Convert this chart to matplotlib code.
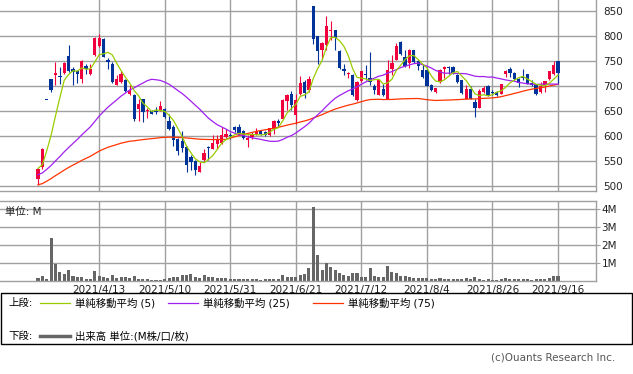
import pandas as pd
import matplotlib
matplotlib.use("Agg")
import matplotlib.pyplot as plt
from matplotlib.lines import Line2D
from matplotlib.patches import Rectangle

plt.rcParams['font.family'] = ['DejaVu Sans', 'Noto Sans CJK JP']

# trading days (Tokyo), 2021/3/24 - 2021/9/16
holidays = ['2021-04-29', '2021-05-03', '2021-05-04', '2021-05-05',
            '2021-07-22', '2021-07-23', '2021-08-09']
dates = pd.bdate_range('2021-03-24', '2021-09-16', freq='C', holidays=holidays)

opens = [515, 539, 673, 714, 723, 720, 727, 760, 735, 731,
         715, 740, 724, 762, 781, 794, 752, 745, 703, 709,
         712, 685, 683, 655, 674, 650, 650, 651, 653, 655,
         631, 618, 595, 590, 579, 559, 551, 529, 552, 579,
         575, 585, 587, 599, 602, 619, 618, 610, 593, 598,
         605, 610, 609, 602, 615, 631, 635, 671, 684, 642,
         685, 709, 692, 860, 800, 773, 782, 810, 812, 771,
         735, 724, 722, 673, 710, 725, 717, 701, 683, 695,
         674, 735, 753, 789, 759, 747, 772, 750, 732, 733,
         702, 689, 709, 735, 739, 739, 722, 712, 675, 695,
         669, 657, 689, 700, 689, 689, 685, 725, 734, 727,
         714, 719, 724, 707, 702, 689, 702, 714, 724, 750]
highs = [536, 577, 673, 714, 749, 738, 749, 782, 739, 732,
         752, 745, 745, 799, 804, 797, 757, 749, 722, 730,
         714, 703, 685, 675, 675, 657, 653, 658, 670, 657,
         645, 623, 596, 610, 581, 562, 553, 549, 574, 580,
         603, 603, 619, 615, 607, 620, 625, 613, 603, 609,
         617, 612, 611, 617, 632, 635, 675, 684, 691, 684,
         720, 713, 720, 860, 801, 788, 841, 830, 813, 772,
         745, 729, 724, 710, 731, 742, 769, 705, 715, 705,
         752, 762, 787, 791, 773, 775, 772, 753, 745, 735,
         705, 697, 734, 740, 740, 740, 724, 713, 702, 700,
         675, 695, 700, 702, 692, 691, 705, 733, 739, 729,
         717, 734, 725, 712, 704, 709, 710, 731, 750, 750]
lows = [502, 535, 673, 689, 702, 705, 725, 729, 702, 707,
        707, 724, 722, 760, 778, 758, 735, 707, 703, 707,
        689, 683, 631, 631, 629, 637, 644, 645, 651, 637,
        612, 580, 562, 569, 529, 532, 523, 528, 551, 552,
        574, 575, 585, 597, 595, 609, 602, 595, 578, 595,
        602, 602, 601, 601, 605, 619, 634, 652, 652, 625,
        683, 677, 689, 784, 745, 755, 773, 793, 773, 735,
        722, 717, 681, 671, 709, 712, 702, 684, 682, 681,
        674, 722, 752, 762, 739, 737, 747, 732, 717, 700,
        691, 687, 707, 717, 724, 725, 707, 685, 674, 674,
        639, 657, 687, 681, 683, 680, 684, 719, 719, 712,
        699, 712, 704, 700, 682, 687, 689, 712, 722, 705]
closes = [535, 574, 673, 692, 727, 718, 747, 731, 729, 724,
          750, 734, 735, 797, 797, 759, 749, 709, 714, 724,
          691, 690, 635, 664, 649, 653, 645, 649, 660, 639,
          614, 593, 570, 577, 543, 549, 532, 541, 567, 577,
          587, 593, 602, 604, 600, 613, 607, 597, 596, 602,
          611, 605, 603, 617, 631, 627, 673, 682, 662, 672,
          707, 687, 715, 794, 771, 787, 820, 812, 797, 737,
          731, 727, 682, 709, 730, 723, 709, 693, 712, 683,
          733, 747, 780, 764, 740, 772, 749, 740, 719, 701,
          692, 697, 733, 739, 737, 727, 709, 687, 694, 675,
          657, 690, 697, 682, 687, 682, 704, 731, 727, 714,
          707, 717, 705, 702, 685, 700, 710, 730, 742, 727]
# volume, million shares
volume = [0.13, 0.26, 0.09, 2.40, 0.93, 0.45, 0.37, 0.60, 0.26, 0.20,
          0.20, 0.09, 0.11, 0.54, 0.26, 0.20, 0.15, 0.30, 0.15, 0.17,
          0.20, 0.15, 0.26, 0.11, 0.09, 0.09, 0.04, 0.04, 0.04, 0.07,
          0.15, 0.20, 0.20, 0.32, 0.32, 0.37, 0.20, 0.15, 0.32, 0.17,
          0.20, 0.15, 0.15, 0.15, 0.09, 0.09, 0.09, 0.09, 0.09, 0.09,
          0.09, 0.04, 0.09, 0.09, 0.09, 0.09, 0.32, 0.20, 0.20, 0.20,
          0.32, 0.37, 0.71, 4.10, 1.43, 0.60, 0.99, 0.76, 0.60, 0.43,
          0.32, 0.26, 0.43, 0.43, 0.20, 0.20, 0.71, 0.26, 0.20, 0.20,
          0.82, 0.48, 0.43, 0.26, 0.26, 0.20, 0.15, 0.15, 0.15, 0.15,
          0.09, 0.09, 0.15, 0.09, 0.09, 0.09, 0.09, 0.09, 0.15, 0.09,
          0.20, 0.09, 0.04, 0.09, 0.04, 0.04, 0.09, 0.15, 0.09, 0.09,
          0.09, 0.09, 0.09, 0.04, 0.09, 0.09, 0.09, 0.15, 0.26, 0.26]
# closes before the window (not drawn, only feed the moving averages)
close_before = [405, 418, 425, 432, 438, 445, 451, 488, 494, 497, 499,
                501, 512, 518, 522, 524, 526, 528, 530, 531, 529, 533,
                530, 528, 532, 536, 534, 537, 533, 536, 535]

price_ticks = [500, 550, 600, 650, 700, 750, 800, 850]
vol_ticks = [1, 2, 3, 4]
vol_labels = ['1M', '2M', '3M', '4M']

RED = '#f0003c'
BLUE = '#003399'
GRID = '#a0a0a0'

W, H = 633, 374
fig = plt.figure(figsize=(W / 100, H / 100), dpi=100)

def fx(px):
    return px / W

def fy(py):
    return 1 - py / H

n = len(closes)
x = list(range(n))
grid_pos = list(range(14, n, 15))
grid_lab = [f"{d.year}/{d.month}/{d.day}" for d in dates[grid_pos]]

full = pd.Series(close_before + closes, dtype=float)
k = len(close_before)
ma5 = full.rolling(5, min_periods=1).mean().to_numpy()[k:]
ma25 = full.rolling(25, min_periods=1).mean().to_numpy()[k:]
ma75 = full.rolling(75, min_periods=1).mean().to_numpy()[k:]

# price panel
ax = fig.add_axes([0, fy(190.5), fx(596), fy(0) - fy(190.5)])
ax.set_xlim(-8.7, 127.7)
ax.set_ylim(491, 872)
for p in price_ticks:
    ax.axhline(p, color=GRID, lw=1.0, zorder=0)
for g in grid_pos:
    ax.axvline(g, color=GRID, lw=1.0, zorder=0)

cols = [RED if c > o else BLUE for o, c in zip(opens, closes)]
ax.vlines(x, lows, highs, colors=cols, lw=0.8, zorder=2)
bottoms = [min(o, c) for o, c in zip(opens, closes)]
heights = [max(abs(c - o), 2) for o, c in zip(opens, closes)]
ax.bar(x, heights, bottom=bottoms, width=0.75, color=cols, lw=0, zorder=3)

ax.plot(x, ma75, color='#ff3300', lw=0.9, zorder=4)
ax.plot(x, ma25, color='#a020f0', lw=0.9, zorder=4)
ax.plot(x, ma5, color='#99cc00', lw=0.9, zorder=4)

ax.yaxis.tick_right()
ax.set_yticks(price_ticks)
ax.set_xticks(grid_pos)
ax.tick_params(axis='x', length=0, labelbottom=False)
ax.tick_params(axis='y', length=0, pad=5, labelsize=7.5, labelcolor='#222222')
for s in ['left', 'top']:
    ax.spines[s].set_visible(False)
for s in ['right', 'bottom']:
    ax.spines[s].set_color(GRID)
    ax.spines[s].set_linewidth(1.0)

# volume panel
av = fig.add_axes([0, fy(280.5), fx(596), fy(201) - fy(280.5)])
av.set_xlim(-8.7, 127.7)
av.set_ylim(0, 4.44)
for v in vol_ticks:
    av.axhline(v, color=GRID, lw=1.0, zorder=0)
for g in grid_pos:
    av.axvline(g, color=GRID, lw=1.0, zorder=0)
av.bar(x, volume, width=0.7, color='#666666', lw=0, zorder=2)
av.yaxis.tick_right()
av.set_yticks(vol_ticks)
av.set_yticklabels(vol_labels)
av.set_xticks(grid_pos)
av.set_xticklabels(grid_lab)
av.tick_params(axis='x', length=0, pad=3, labelsize=7.5, labelcolor='#222222')
av.tick_params(axis='y', length=3, color=GRID, pad=1, labelsize=7.5, labelcolor='#222222')
av.spines['left'].set_visible(False)
for s in ['right', 'bottom', 'top']:
    av.spines[s].set_color(GRID)
    av.spines[s].set_linewidth(1.0)
fig.text(fx(5), fy(212), '単位: M', fontsize=7.5, va='center', color='#222222')

# legend box
fig.patches.append(Rectangle((fx(0.5), fy(344)), fx(631.5), fy(293) - fy(344),
                             transform=fig.transFigure, fill=False,
                             edgecolor='black', lw=1.0))
row1, row2 = 303, 336
fig.text(fx(8), fy(row1), '上段:', fontsize=7.5, va='center')
items = [(40, '#99cc00', '単純移動平均 (5)'),
         (168, '#a020f0', '単純移動平均 (25)'),
         (313, '#ff3300', '単純移動平均 (75)')]
for x0, c, t in items:
    fig.lines.append(Line2D([fx(x0), fx(x0 + 30)], [fy(row1), fy(row1)],
                            transform=fig.transFigure, color=c, lw=0.9))
    fig.text(fx(x0 + 35), fy(row1), t, fontsize=7.5, va='center')
fig.text(fx(8), fy(row2), '下段:', fontsize=7.5, va='center')
fig.lines.append(Line2D([fx(40), fx(70)], [fy(row2), fy(row2)],
                        transform=fig.transFigure, color='#666666', lw=2.5))
fig.text(fx(75), fy(row2), '出来高 単位:(M株/口/枚)', fontsize=7.5, va='center')

fig.text(fx(615), fy(358), '(c)Ouants Research Inc.', fontsize=7.5,
         ha='right', va='center', color='#555555')

fig.savefig('out.png', dpi=100)
